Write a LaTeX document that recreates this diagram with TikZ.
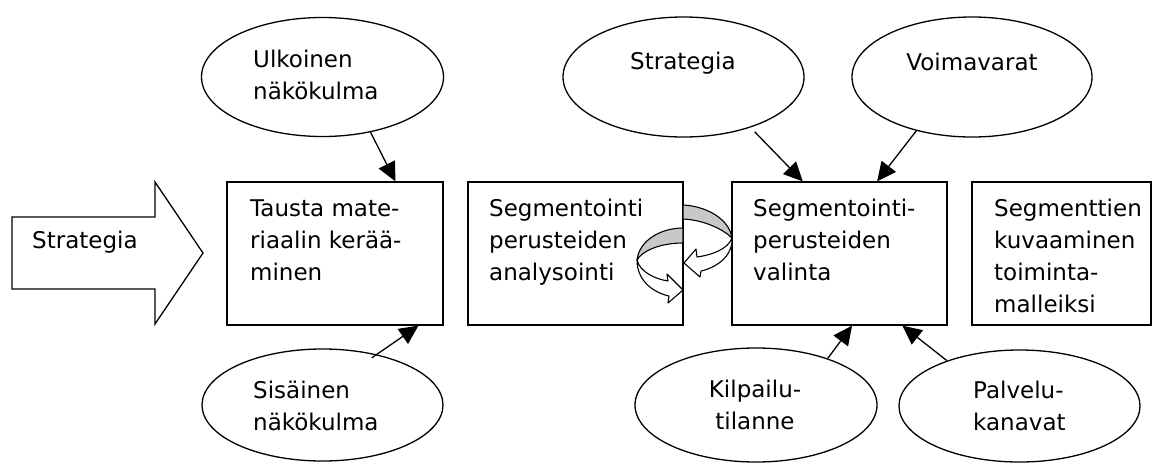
\documentclass[tikz,border=0pt]{standalone}
\usepackage{fontspec}
\setmainfont{DejaVu Sans}
\usetikzlibrary{arrows.meta,shapes.geometric,calc}
\definecolor{bandgray}{RGB}{200,200,200}
\begin{document}
\begin{tikzpicture}[x=1pt,y=-1pt,
  box/.style={draw, line width=1.3pt, fill=white, rectangle, inner sep=0pt, minimum height=143pt},
  oval/.style={draw, line width=1.3pt, ellipse, inner sep=0pt},
  txt/.style={inner sep=0pt, font=\fontsize{23}{32}\selectfont},
  link/.style={line width=1.3pt, -{Triangle[length=19pt,width=18pt]}},
  band/.style={draw, line width=1.1pt, line join=round}
]
\useasboundingbox (0,0) rectangle (1154,464);

% input arrow
\draw[line width=1.3pt, line join=miter, fill=white]
  (12,217) -- (155,217) -- (155,182) -- (203,253) -- (155,324) -- (155,289) -- (12,289) -- cycle;
\node[txt, anchor=base west] (inp) at (32,248.5) {Strategia};

% process boxes
\node[box, minimum width=216pt] (b1) at (335,253.5) {};
\node[box, minimum width=215pt] (b2) at (575.5,253.5) {};
\node[box, minimum width=215pt] (b3) at (839.5,253.5) {};
\node[box, minimum width=179pt] (b4) at (1061.5,253.5) {};

\node[txt, anchor=north west, align=left] (t1) at (250,193.6) {\strut Tausta mate-\\riaalin kerää-\\minen};
\node[txt, anchor=north west, align=left] (t2) at (489,193.6) {\strut Segmentointi\\perusteiden\\analysointi};
\node[txt, anchor=north west, align=left] (t3) at (753,193.6) {\strut Segmentointi-\\perusteiden\\valinta};
\node[txt, anchor=north west, align=left] (t4) at (994,193.6) {\strut Segmenttien\\kuvaaminen\\toiminta-\\malleiksi};

% influencing factors
\node[oval, minimum width=242pt, minimum height=119pt] (ulk) at (322.5,77) {};
\node[oval, minimum width=241pt, minimum height=112pt] (sis) at (322.5,405) {};
\node[oval, minimum width=241pt, minimum height=120pt] (str) at (683.5,77) {};
\node[oval, minimum width=240pt, minimum height=120pt] (voi) at (972,77) {};
\node[oval, minimum width=242pt, minimum height=114pt] (kil) at (756,405) {};
\node[oval, minimum width=241pt, minimum height=112pt] (pal) at (1019.5,406) {};

\node[txt, anchor=north west, align=left] (ulkt) at (253,44.5) {\strut Ulkoinen\\näkökulma};
\node[txt, anchor=north west, align=left] (sist) at (253,376) {\strut Sisäinen\\näkökulma};
\node[txt, anchor=base west] (strt) at (630,69) {Strategia};
\node[txt, anchor=base] (voit) at (972,70) {Voimavarat};
\node[txt, anchor=north, align=center] (kilt) at (755,375.3) {\strut Kilpailu-\\tilanne};
\node[txt, anchor=north west, align=left] (palt) at (973,376) {\strut Palvelu-\\kanavat};

% connectors
\draw[link] (ulk.-49) -- ($(b1.north west)!0.778!(b1.north east)$);
\draw[link, shorten <=-6pt] (sis.43) -- ($(b1.south west)!0.884!(b1.south east)$);
\draw[link, shorten <=6pt] (str.-37) -- ($(b3.north west)!0.330!(b3.north east)$);
\draw[link] (voi.-136) -- ($(b3.north west)!0.674!(b3.north east)$);
\draw[link] (kil.33) -- ($(b3.south west)!0.558!(b3.south east)$);
\draw[link] (pal.148) -- ($(b3.south west)!0.791!(b3.south east)$);

% feedback loop between analysis and selection
\draw[band, fill=bandgray]
  (683,205) .. controls (705,206) and (729,218) .. (732,238)
  .. controls (724,230) and (705,220) .. (683,219) -- cycle;
\draw[band, fill=white]
  (732,238) .. controls (733,257) and (715,268) .. (701,271)
  -- (700,277) -- (684,263) -- (696,249) -- (697,257)
  .. controls (712,255) and (728,249) .. (732,238) -- cycle;
\draw[band, fill=bandgray]
  (683,228) .. controls (660,228) and (639,241) .. (637,260)
  .. controls (642,251) and (660,243) .. (683,243) -- cycle;
\draw[band, fill=white]
  (637,260) .. controls (637,282) and (655,293) .. (669,296)
  -- (668,303) -- (683,290) -- (667,274) -- (668,281)
  .. controls (655,279) and (640,272) .. (637,260) -- cycle;
\end{tikzpicture}
\end{document}
